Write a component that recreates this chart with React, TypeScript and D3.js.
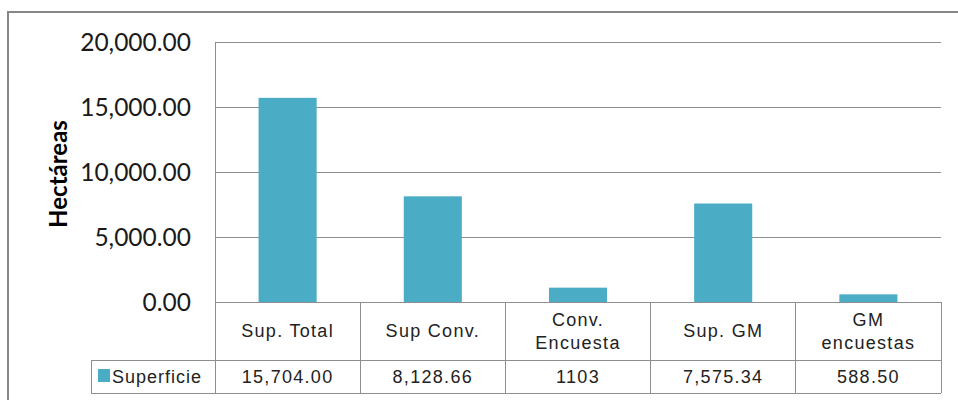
import React from "react";
import * as d3 from "d3";

const categories = ["Sup. Total", "Sup Conv.", "Conv. Encuesta", "Sup. GM", "GM encuestas"];
const categoryLines = [["Sup. Total"], ["Sup Conv."], ["Conv.", "Encuesta"], ["Sup. GM"], ["GM", "encuestas"]];
const values = [15704, 8128.66, 1103, 7575.34, 588.5];
const valueLabels = ["15,704.00", "8,128.66", "1103", "7,575.34", "588.50"];
const yTicks = [0, 5000, 10000, 15000, 20000];
const seriesName = "Superficie";
const yTitle = "Hectáreas";

const W = 958, H = 400;
const plotL = 215, plotR = 941, plotT = 42, plotB = 302;
const catRowB = 360, valRowB = 393, legendL = 91;
const barColor = "#4BACC6";
const lineColor = "#8e8e8e";
const tableFont = "'Liberation Sans', Arial, sans-serif";
const axisFont = "Lato, 'Open Sans', sans-serif";

export default function App() {
  const x = d3.scaleBand<string>().domain(categories).range([plotL, plotR]).padding(0);
  const y = d3.scaleLinear().domain([0, 20000]).range([plotB, plotT]);
  const fmt = d3.format(",.2f");
  const bw = x.bandwidth();
  const barW = bw * 0.4;
  const edges = categories.map((c) => x(c) as number).concat([plotR]);

  return (
    <svg width={W} height={H} style={{ position: "absolute", left: 0, top: 0, background: "#fff" }}>
      {/* outer frame (clipped at right/bottom) */}
      <rect x={8} y={12} width={W + 20} height={H + 20} fill="#fff" stroke="#878787" strokeWidth={2} />
      {/* gridlines */}
      {yTicks.map((t) => (
        <line key={t} x1={plotL} x2={plotR} y1={y(t)} y2={y(t)} stroke={lineColor} strokeWidth={1} shapeRendering="crispEdges" />
      ))}
      {/* y axis line */}
      <line x1={plotL} x2={plotL} y1={plotT} y2={valRowB} stroke={lineColor} shapeRendering="crispEdges" />
      {/* tick labels */}
      {yTicks.map((t) => (
        <text key={t} x={191} y={y(t)} dy="0.36em" textAnchor="end" fontFamily={axisFont} fontSize={24.5} fill="#1a1a1a">
          {fmt(t)}
        </text>
      ))}
      {/* y title */}
      <text transform={`translate(67,${(plotT + plotB) / 2 + 2}) rotate(-90)`} textAnchor="middle" fontFamily={axisFont} fontWeight="bold" fontSize={24} fill="#000">
        {yTitle}
      </text>
      {/* bars */}
      {categories.map((c, i) => (
        <rect key={c} x={(x(c) as number) + (bw - barW) / 2} y={y(values[i])} width={barW} height={y(0) - y(values[i])} fill={barColor} />
      ))}
      {/* table lines */}
      <line x1={legendL} x2={plotR} y1={catRowB} y2={catRowB} stroke={lineColor} shapeRendering="crispEdges" />
      <line x1={legendL} x2={plotR} y1={valRowB} y2={valRowB} stroke={lineColor} shapeRendering="crispEdges" />
      <line x1={legendL} x2={legendL} y1={catRowB} y2={valRowB} stroke={lineColor} shapeRendering="crispEdges" />
      {edges.slice(1).map((e, i) => (
        <line key={i} x1={e} x2={e} y1={plotB} y2={valRowB} stroke={lineColor} shapeRendering="crispEdges" />
      ))}
      {/* category labels */}
      {categories.map((c, i) => {
        const lines = categoryLines[i];
        const cx = (x(c) as number) + bw / 2;
        const cy = (plotB + catRowB) / 2;
        const lh = 23;
        return (
          <text key={c} x={cx} textAnchor="middle" fontFamily={tableFont} fontSize={18} letterSpacing={1.3} fill="#222">
            {lines.map((l, j) => (
              <tspan key={j} x={cx} y={cy + (j - (lines.length - 1) / 2) * lh} dy="0.35em">
                {l}
              </tspan>
            ))}
          </text>
        );
      })}
      {/* value labels */}
      {categories.map((c, i) => (
        <text key={c} x={(x(c) as number) + bw / 2} y={(catRowB + valRowB) / 2} dy="0.36em" textAnchor="middle" fontFamily={tableFont} fontSize={18} letterSpacing={1.3} fill="#222">
          {valueLabels[i]}
        </text>
      ))}
      {/* legend */}
      <rect x={98} y={369} width={12} height={13} fill={barColor} />
      <text x={112} y={(catRowB + valRowB) / 2} dy="0.36em" fontFamily={tableFont} fontSize={18} letterSpacing={1} fill="#222">
        {seriesName}
      </text>
    </svg>
  );
}
